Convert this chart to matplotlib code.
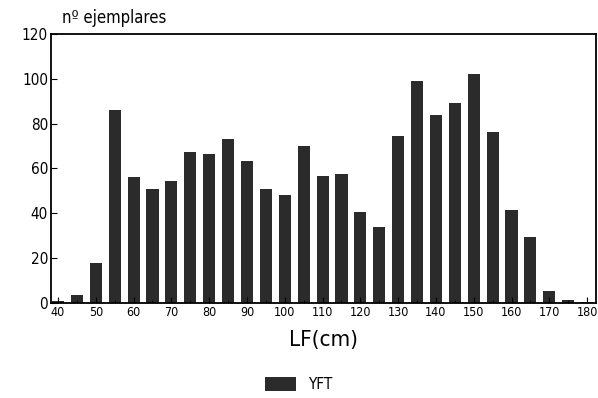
"""Length frequency histogram of YFT catches (number of specimens by LF)."""

import matplotlib.pyplot as plt
from matplotlib.ticker import MultipleLocator

plt.rcParams['font.family'] = ['DejaVu Sans']
plt.rcParams['font.stretch'] = 'condensed'

# length classes (cm) and number of specimens
lengths = [40, 45, 50, 55, 60, 65, 70, 75, 80, 85, 90, 95, 100, 105, 110,
           115, 120, 125, 130, 135, 140, 145, 150, 155, 160, 165, 170, 175,
           180]
counts = [1, 3.5, 18, 86, 56, 51, 54.5, 67.5, 66.5, 73, 63.5, 51, 48, 70,
          56.5, 57.5, 40.5, 34, 74.5, 99, 84, 89, 102, 76, 41.5, 29.5, 5.5,
          1.5, 0.5]
x_ticks = list(range(40, 181, 10))
y_ticks = list(range(0, 121, 20))

fig = plt.figure(figsize=(5.98, 3.98), dpi=100)
ax = fig.add_axes([0.085, 0.239, 0.912, 0.676])

ax.bar(lengths, counts, width=3.2, color='#2b2b2b', label='YFT')

ax.set_xlim(38.1, 182.4)
ax.set_ylim(0, 120)
ax.set_xticks(x_ticks)
ax.set_yticks(y_ticks)
ax.xaxis.set_minor_locator(MultipleLocator(5))
ax.tick_params(direction='in', length=4, pad=2)
ax.tick_params(axis='y', labelsize=11)
ax.tick_params(axis='x', labelsize=9)
ax.tick_params(axis='x', which='minor', direction='in', length=2)
for spine in ax.spines.values():
    spine.set_linewidth(1.3)

ax.set_xlabel('LF(cm)', fontsize=16, labelpad=8)
ax.text(0.02, 1.025, 'nº ejemplares', transform=ax.transAxes,
        fontsize=12, va='bottom', ha='left')

fig.legend(loc='lower center', bbox_to_anchor=(0.5, -0.02), frameon=False,
           fontsize=11, handlelength=2.0, handleheight=1.0)

fig.savefig('out.png', dpi=100)
